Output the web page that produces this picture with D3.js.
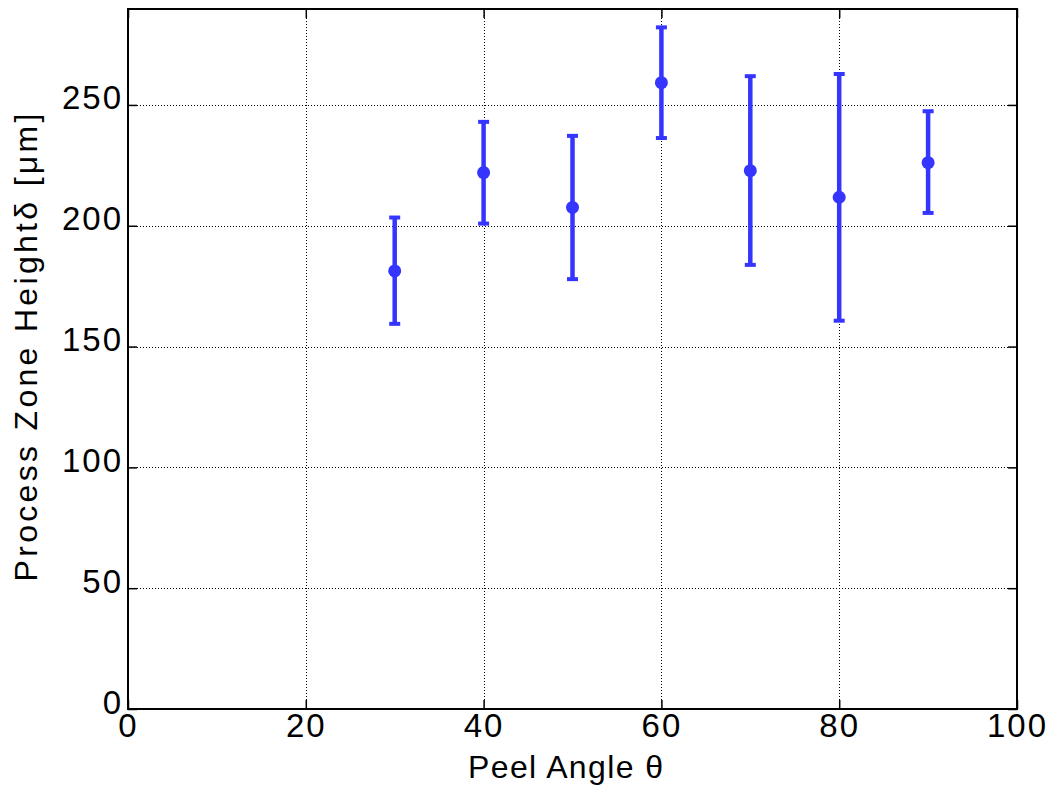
<!DOCTYPE html>
<html><head><meta charset="utf-8">
<script src="https://d3js.org/d3.v7.min.js"></script>
<style>body{margin:0;background:#fff}svg{display:block}text{font-family:"Liberation Sans",Arial,sans-serif;fill:#000}</style>
</head><body><svg id="c" width="1056" height="787"></svg>
<script>
const angles = [30, 40, 50, 60, 70, 80, 90];
const heights = [181.3, 222.0, 207.6, 259.2, 222.8, 211.8, 226.1];
const lower = [159.4, 200.9, 177.9, 236.3, 183.8, 160.7, 205.3];
const upper = [203.4, 243.0, 237.2, 282.1, 261.9, 262.8, 247.4];
const xTicks = [0, 20, 40, 60, 80, 100];
const yTicks = [0, 50, 100, 150, 200, 250];
const xTitle = "Peel Angle \u03b8";
const yTitle = "Process Zone Height\u03b4 [\u03bcm]";

const L = 128, R = 1017, T = 9, B = 709;
const svg = d3.select("#c");
const x = d3.scaleLinear().domain([0, 100]).range([L, R]);
const y = d3.scaleLinear().domain([0, 289.7]).range([B, T]);
const snap = v => Math.round(v) + 0.5;

// grid
const g = svg.append("g").attr("shape-rendering", "crispEdges");
g.selectAll("line.gx").data(xTicks.filter(d => d > 0 && d < 100)).join("line")
  .attr("x1", d => snap(x(d))).attr("x2", d => snap(x(d))).attr("y1", T).attr("y2", B)
  .attr("stroke", "#000").attr("stroke-width", 1).attr("stroke-dasharray", "1,2");
g.selectAll("line.gy").data(yTicks.filter(d => d > 0)).join("line")
  .attr("y1", d => snap(y(d))).attr("y2", d => snap(y(d))).attr("x1", L).attr("x2", R)
  .attr("stroke", "#000").attr("stroke-width", 1).attr("stroke-dasharray", "1,2");

// axes with inward ticks
const tl = 9;
const bx = svg.append("g").attr("transform", `translate(0,${B})`)
  .call(d3.axisBottom(x).tickValues(xTicks).tickSizeInner(-tl).tickSizeOuter(0).tickPadding(tl + 20));
const tx = svg.append("g").attr("transform", `translate(0,${T})`)
  .call(d3.axisTop(x).tickValues(xTicks).tickSizeInner(-tl).tickSizeOuter(0).tickFormat(""));
const ly = svg.append("g").attr("transform", `translate(${L},0)`)
  .call(d3.axisLeft(y).tickValues(yTicks).tickSizeInner(-tl).tickSizeOuter(0).tickPadding(tl + 5));
const ry = svg.append("g").attr("transform", `translate(${R},0)`)
  .call(d3.axisRight(y).tickValues(yTicks).tickSizeInner(-tl).tickSizeOuter(0).tickFormat(""));
[bx, tx, ly, ry].forEach(a => {
  a.select(".domain").remove();
  a.selectAll(".tick line").attr("stroke", "#000").attr("stroke-width", 1.5);
  a.selectAll("text").attr("font-size", 33).attr("letter-spacing", 2)
    .attr("font-family", "Liberation Sans, Arial, sans-serif").attr("fill", "#000");
});
bx.selectAll(".tick text").attr("dy", null).attr("y", 28).attr("dominant-baseline", "auto");
ly.selectAll(".tick text").attr("dy", null).attr("y", 4).attr("x", -5).attr("dominant-baseline", "auto");
// frame
svg.append("rect").attr("x", L).attr("y", T).attr("width", R - L).attr("height", B - T)
  .attr("fill", "none").attr("stroke", "#000").attr("stroke-width", 2);

// error bars
const col = "#3535ff";
const eb = svg.append("g");
const idx = d3.range(angles.length);
eb.selectAll("line.v").data(idx).join("line")
  .attr("x1", i => x(angles[i])).attr("x2", i => x(angles[i]))
  .attr("y1", i => y(lower[i])).attr("y2", i => y(upper[i]))
  .attr("stroke", col).attr("stroke-width", 4.5);
["lo", "hi"].forEach(k => {
  eb.selectAll("line.c" + k).data(idx).join("line")
    .attr("x1", i => x(angles[i]) - 5.5).attr("x2", i => x(angles[i]) + 5.5)
    .attr("y1", i => y(k === "lo" ? lower[i] : upper[i])).attr("y2", i => y(k === "lo" ? lower[i] : upper[i]))
    .attr("stroke", col).attr("stroke-width", 4);
});
eb.selectAll("circle").data(idx).join("circle")
  .attr("cx", i => x(angles[i])).attr("cy", i => y(heights[i])).attr("r", 6.5).attr("fill", col);

// titles
svg.append("text").attr("x", (468 + 663) / 2).attr("y", 778).attr("text-anchor", "middle")
  .attr("font-size", 32).attr("textLength", 195).attr("lengthAdjust", "spacing").text(xTitle);
svg.append("text").attr("transform", `translate(37,${(113 + 582) / 2}) rotate(-90)`).attr("text-anchor", "middle")
  .attr("font-size", 32).attr("textLength", 468).attr("lengthAdjust", "spacing").text(yTitle);
</script></body></html>
